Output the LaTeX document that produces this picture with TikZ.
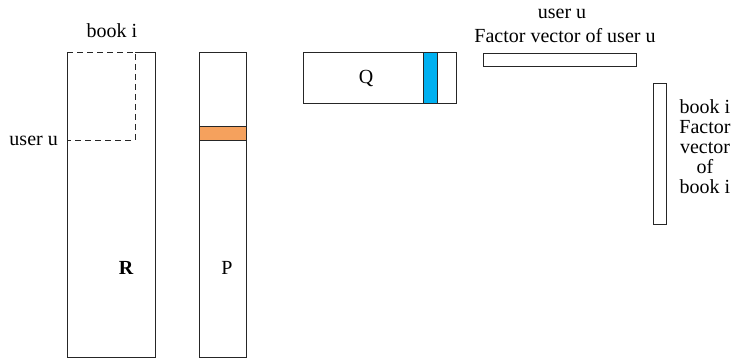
\documentclass[tikz,border=0pt]{standalone}
\usepackage{fontspec}
\setmainfont{Liberation Serif}
\definecolor{bandorange}{RGB}{245,161,93}
\definecolor{bandblue}{RGB}{0,176,240}
\tikzset{
  matline/.style={draw=black!85, line width=0.8pt},
  lbl/.style={inner sep=0pt, font=\fontsize{20}{20}\selectfont, align=center}
}

\begin{document}
\begin{tikzpicture}[x=1pt,y=-1pt]
        \useasboundingbox (0,0) rectangle (735,358);

        % Rating matrix R (the corner block is shown dashed)
        \draw[matline] (135,52) -- (155,52) -- (155,357) -- (67,357) -- (67,52);
        \draw[matline, dash pattern=on 6pt off 4pt] (67,52) -- (135,52) -- (135,140) -- (67,140);
        \node[lbl] (bookR) at (112,31) {book i};
        \node[lbl, anchor=east] (userR) at (58,141) {user u};
        \node[lbl, font=\fontsize{20}{20}\selectfont\bfseries] (nameR) at (126,268) {R};

        % User factor matrix P with row u
        \draw[matline, fill=bandorange] (199,126) rectangle (246,140);
        \draw[matline] (199,52) rectangle (246,357);
        \node[lbl] (nameP) at (227,268) {P};

        % Book factor matrix Q with column i
        \draw[matline, fill=bandblue] (423,52) rectangle (437,103);
        \draw[matline] (303,52) rectangle (456,103);
        \node[lbl] (nameQ) at (366,79) {Q};

        % Factor vector of user u
        \draw[matline] (483,53) rectangle (636,66);
        \node[lbl] (userP) at (562,14) {user u};
        \node[lbl] (vecP) at (565,36) {Factor vector of user u};

        % Factor vector of book i
        \draw[matline] (653,83) rectangle (666,224);
        \node[lbl, anchor=north] (vecQ) at (705,99) {book i\\Factor\\vector\\of\\book i};

     \end{tikzpicture}
\end{document}
